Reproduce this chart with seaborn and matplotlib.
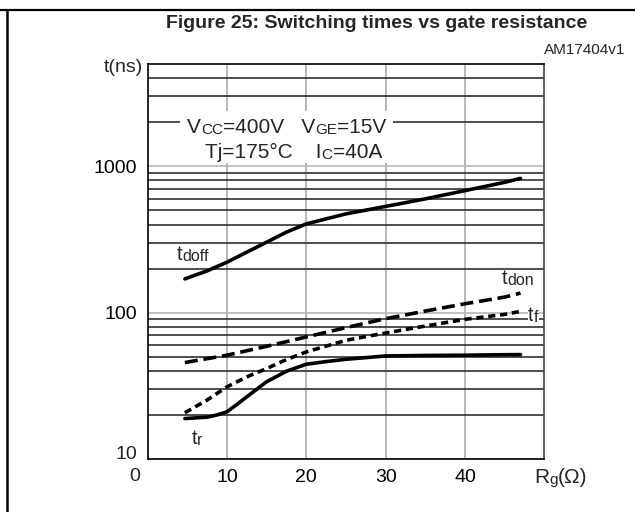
import matplotlib
matplotlib.use("Agg")
import matplotlib.pyplot as plt
import seaborn as sns
import pandas as pd
from matplotlib.ticker import FixedLocator, NullFormatter, FixedFormatter
from matplotlib.lines import Line2D
from matplotlib.patches import Rectangle

sns.set_style("white")
plt.rcParams["font.family"] = ["Liberation Sans", "DejaVu Sans"]

# ---- data ----
rg_doff = [4.7, 7.5, 10, 12.5, 15, 17.5, 20, 25, 30, 35, 40, 45, 47]
t_doff = [170, 193, 221, 259, 303, 355, 404, 473, 532, 599, 682, 777, 827]

rg_don = [4.7, 10, 15, 20, 25, 30, 35, 40, 45, 47]
t_don = [45.6, 51.2, 58.9, 68.2, 79, 91, 102.5, 115, 127.7, 136]

rg_f = [4.7, 7.5, 10, 12.5, 15, 17.5, 20, 25, 30, 35, 40, 45, 47]
t_f = [20.7, 25.3, 31.1, 36.4, 41.5, 47.8, 53.9, 64.7, 72.6, 81, 90, 97.3, 102]

rg_r = [4.7, 7.5, 8.75, 10, 11.25, 12.5, 15, 17.5, 20, 22.5, 25, 30, 35, 40, 45, 47]
t_r = [18.9, 19.3, 20.0, 21.0, 23.6, 26.6, 33.7, 39.8, 44.4, 46.3, 48, 50.6, 51,
       51.2, 51.6, 51.7]

x_ticks = [10, 20, 30, 40]
x_tick_labels = ["10", "20", "30", "40"]
y_ticks = [10, 100, 1000]
y_tick_labels = ["10", "100", "1000"]
y_minor = [20, 30, 40, 50, 60, 70, 80, 90, 200, 300, 400, 500, 600, 700, 800, 900,
           2000, 3000, 4000]

df = pd.concat([
    pd.DataFrame({"Rg": rg_doff, "t": t_doff, "series": "tdoff"}),
    pd.DataFrame({"Rg": rg_don, "t": t_don, "series": "tdon"}),
    pd.DataFrame({"Rg": rg_f, "t": t_f, "series": "tf"}),
    pd.DataFrame({"Rg": rg_r, "t": t_r, "series": "tr"}),
], ignore_index=True)

W, H = 635, 512
fig = plt.figure(figsize=(W / 100, H / 100), dpi=100)
ax_l, ax_r, ax_t, ax_b = 147.6, 544.3, 64, 459
ax = fig.add_axes([ax_l / W, 1 - ax_b / H, (ax_r - ax_l) / W, (ax_b - ax_t) / H])

sns.lineplot(data=df, x="Rg", y="t", style="series", ax=ax, color="black",
             linewidth=2.6, legend=False, estimator=None, sort=False,
             dashes={"tdoff": "", "tr": "", "tdon": (3.6, 1.6), "tf": (2.0, 1.3)},
             zorder=4)

ax.set_yscale("log")
ax.set_xlim(0, 50)
ax.set_ylim(10, 5000)
ax.set_xlabel("")
ax.set_ylabel("")

ax.xaxis.set_major_locator(FixedLocator(x_ticks))
ax.xaxis.set_major_formatter(FixedFormatter(x_tick_labels))
ax.xaxis.set_minor_locator(FixedLocator([]))
ax.yaxis.set_major_locator(FixedLocator(y_ticks))
# the bottom "10" label is drawn by hand a little higher (as in the reference)
ax.yaxis.set_major_formatter(FixedFormatter([""] + y_tick_labels[1:]))
ax.yaxis.set_minor_locator(FixedLocator(y_minor))
ax.yaxis.set_minor_formatter(NullFormatter())

ax.tick_params(axis="both", which="both", length=0, labelsize=14, colors="black")
ax.tick_params(axis="y", pad=7.5)
ax.tick_params(axis="x", pad=7.0)

ax.grid(True, axis="x", which="major", color="#ababab", linewidth=1.2)
ax.grid(True, axis="y", which="major", color="#b8b8b8", linewidth=1.2)
ax.grid(True, axis="y", which="minor", color="#1e1e1e", linewidth=1.1)
ax.set_axisbelow(True)

for s in ax.spines.values():
    s.set_color("black")
    s.set_linewidth(1.2)
ax.spines["right"].set_color("#444444")


def rich(x, y, parts, transform, zorder=6, box=False):
    kw = {}
    if box:
        kw["bbox"] = dict(facecolor="white", edgecolor="none", pad=0.3)
    prev = ax.text(x, y, parts[0][0], fontsize=parts[0][1], transform=transform,
                   va="baseline", ha="left", zorder=zorder, **kw)
    for s, fs in parts[1:]:
        prev = ax.annotate(s, xy=(1, 0), xycoords=prev, va="bottom", ha="left",
                           fontsize=fs, zorder=zorder, **kw)
    return prev


def fx(px):
    return (px - ax_l) / (ax_r - ax_l)


def fy(py):
    return (ax_b - py) / (ax_b - ax_t)


BIG, SMALL = 15, 11

# white box behind the condition text
ax.add_patch(Rectangle((fx(180), fy(163)), fx(393) - fx(180), fy(111) - fy(163),
                       transform=ax.transAxes, facecolor="white", edgecolor="none",
                       zorder=3))
rich(fx(187), fy(133), [("V", BIG), ("CC", SMALL), ("=400V   V", BIG), ("GE", SMALL),
                        ("=15V", BIG)], ax.transAxes)
rich(fx(205), fy(158), [("Tj=175°C    I", BIG), ("C", SMALL), ("=40A", BIG)],
     ax.transAxes)

# curve labels
LB, LS = 14.5, 11.5
rich(fx(177), fy(260), [("t", LB), ("doff", LS)], ax.transAxes)
rich(fx(502), fy(284), [("t", LB), ("don", LS)], ax.transAxes)
rich(fx(528), fy(321), [("t", LB), ("f", LS)], ax.transAxes, box=True)
rich(fx(191.5), fy(444), [("t", LB), ("r", LS)], ax.transAxes)

# axis texts
ax.text(fx(137.5), fy(454.5), y_tick_labels[0], fontsize=14, ha="right", va="center",
        transform=ax.transAxes)
ax.text(fx(134.5), fy(476.5), "0", fontsize=14, ha="center", va="center",
        transform=ax.transAxes)
rich(fx(534), fy(483), [("R", BIG), ("g", SMALL), ("(Ω)", BIG)], ax.transAxes)
fig.text(143 / W, 1 - 68 / H, "t(ns)", fontsize=14, ha="right", va="center")

# title and figure id
fig.text(377 / W, 1 - 23 / H, "Figure 25: Switching times vs gate resistance",
         fontsize=14, fontweight="bold", ha="center", va="center")
fig.text(625 / W, 1 - 50 / H, "AM17404v1", fontsize=11, ha="right", va="center")

# page frame lines
fig.add_artist(Line2D([0, 1], [1 - 10 / H, 1 - 10 / H], color="black",
                      linewidth=1.6, transform=fig.transFigure))
fig.add_artist(Line2D([7 / W, 7 / W], [0, 1 - 10 / H], color="black",
                      linewidth=1.8, transform=fig.transFigure))

fig.savefig("out.png", dpi=100)
